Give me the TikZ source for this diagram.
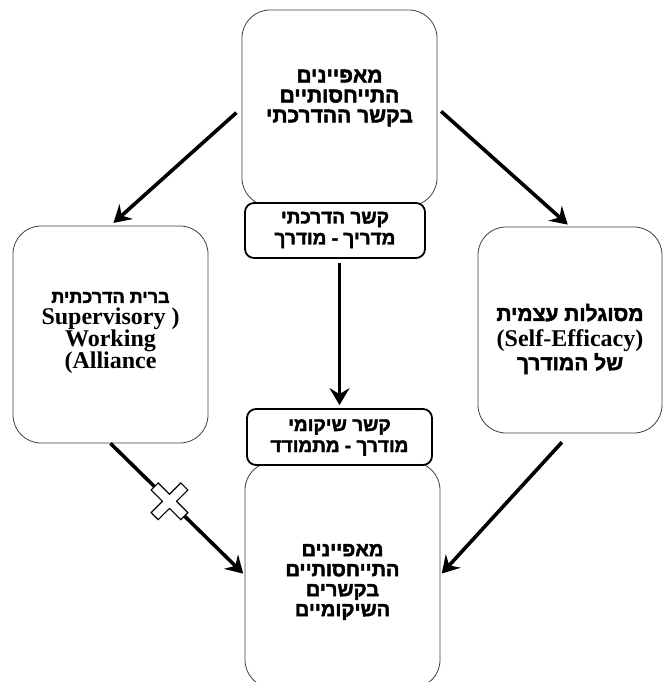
\documentclass[tikz,border=0pt]{standalone}
\usepackage{fontspec}
\setmainfont{Liberation Serif}
\newfontfamily\hebfont[Script=Hebrew, FakeBold=2.2]{Liberation Sans}
\usetikzlibrary{arrows.meta, calc}
\TeXXeTstate=1
\newcommand{\heb}[1]{{\hebfont\beginR #1\endR}}

\begin{document}
\begin{tikzpicture}[x=1pt, y=-1pt,
  bigbox/.style={draw=black!75, line width=0.8pt, rounded corners=28pt, fill=white},
  tagbox/.style={draw, line width=1.8pt, rounded corners=9pt, fill=white},
  txt/.style={font=\bfseries\fontsize{19}{21}\selectfont, align=center},
  arr/.style={-{Stealth[length=17pt, width=20pt, inset=6pt]}, line width=3.6pt}]
  \useasboundingbox (0,0) rectangle (664,682);
  % Boxes
  \node[bigbox, minimum width=195pt, minimum height=196pt] (top) at (339.5,108) {};
  \node[bigbox, minimum width=195pt, minimum height=217pt] (left) at (110.5,334.5) {};
  \node[bigbox, minimum width=184pt, minimum height=206pt] (right) at (570,330) {};
  \node[bigbox, minimum width=195pt, minimum height=226pt] (bottom) at (342.5,575) {};
  \node[tagbox, minimum width=180pt, minimum height=55pt] (tagA) at (335,230.5) {};
  \node[tagbox, minimum width=185pt, minimum height=56pt] (tagB) at (339.5,437) {};
  % Labels
  \node[txt, font=\bfseries\fontsize{21}{20}\selectfont] (topTxt) at (339.5,98)
    {\heb{מאפיינים}\\\heb{התייחסותיים}\\\heb{בקשר ההדרכתי}};
  \node[txt] (tagATxt) at (335,230) {\heb{קשר הדרכתי}\\\heb{מדריך - מודרך}};
  \node[txt, font=\bfseries\fontsize{24}{22}\selectfont] (leftTxt) at (110.5,333)
    {{\fontsize{18}{22}\selectfont\heb{ברית הדרכתית}}\\Supervisory )\\Working\\(Alliance};
  \node[txt, font=\bfseries\fontsize{21}{20}\selectfont] (rightTxt) at (570,339)
    {\heb{מסוגלות עצמית}\\[6pt]{\fontsize{24}{20}\selectfont(Self-Efficacy)}\\\heb{של המודרך}};
  \node[txt] (tagBTxt) at (339.5,437.5) {\heb{קשר שיקומי}\\\heb{מודרך - מתמודד}};
  \node[txt, font=\bfseries\fontsize{20}{20}\selectfont] (bottomTxt) at (342.5,582)
    {\heb{מאפיינים}\\\heb{התייחסותיים}\\\heb{בקשרים}\\\heb{השיקומיים}};
  % Arrows
  \draw[arr, shorten <=7pt, shorten >=4pt] (top.west) -- (left.north);
  \draw[arr, shorten <=5pt, shorten >=3pt] (top.east) -- (right.north);
  \draw[arr, shorten <=4pt, shorten >=3pt] (tagA.south -| tagB.north) -- (tagB.north);
  \draw[arr, shorten >=2pt] (left.south) -- (bottom.west);
  \draw[arr, shorten <=12pt, shorten >=2pt] (right.south) -- (bottom.east);
  % Cross on the left arrow
  \coordinate (cross) at ($(left.south)!0.44!(bottom.west)$);
  \draw[line width=1.2pt, fill=white, shift={(cross)}, rotate=45]
    (-5,-21) -- (5,-21) -- (5,-5) -- (21,-5) -- (21,5) -- (5,5) -- (5,21)
    -- (-5,21) -- (-5,5) -- (-21,5) -- (-21,-5) -- (-5,-5) -- cycle;
\end{tikzpicture}
\end{document}
